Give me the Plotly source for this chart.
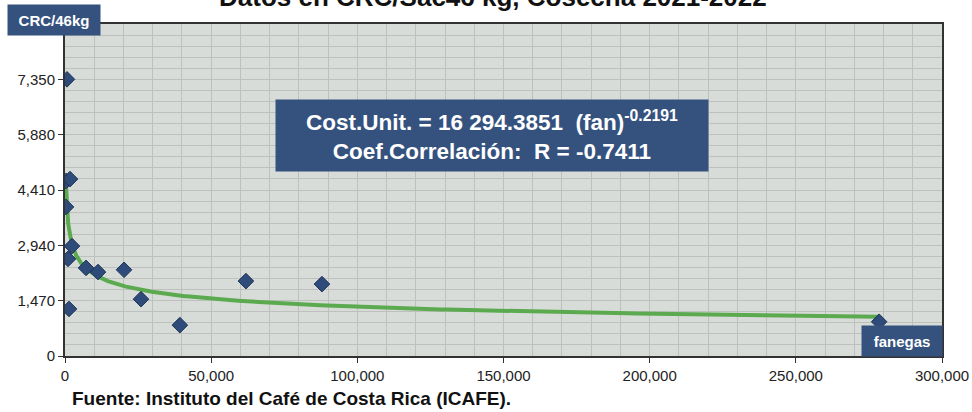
import numpy as np
import plotly.graph_objects as go

# Data (fanegas, CRC/46kg)
fanegas = [680, 340, 1710, 340, 2390, 1030, 7200, 11300, 20200, 26000, 39300, 61900, 87900, 1370, 278500]
costo = [7350, 4650, 4700, 3960, 2920, 2580, 2340, 2230, 2290, 1510, 820, 1990, 1910, 1250, 910]

# Power trendline parameters (shown in chart)
coef_a = 16294.3851
coef_b = -0.2191

y_ticks = [0, 1470, 2940, 4410, 5880, 7350]
y_ticktext = ["0", "1,470", "2,940", "4,410", "5,880", "7,350"]
x_ticks = [0, 50000, 100000, 150000, 200000, 250000, 300000]
x_ticktext = ["0", "50,000", "100,000", "150,000", "200,000", "250,000", "300,000"]

trend_x = np.geomspace(min(fanegas), max(fanegas), 400)
trend_y = coef_a * trend_x ** coef_b

W, H = 972, 412
L, T = 65, 24
pw, ph = 877, 332
R, B = W - L - pw, H - T - ph


# page-pixel -> paper coordinates (plot area spans x 65..942, y 24..356)
def px(xp):
    return (xp - L) / pw


def py(yp):
    return (T + ph - yp) / ph


fig = go.Figure()
fig.add_trace(go.Scatter(
    x=trend_x, y=trend_y, mode="lines",
    line=dict(color="#5BAA4F", width=4), hoverinfo="skip", showlegend=False))
fig.add_trace(go.Scatter(
    x=fanegas, y=costo, mode="markers",
    marker=dict(symbol="diamond", size=12, color="#2E4B7A",
                line=dict(color="#1E3358", width=1)),
    showlegend=False))

grid = "#BEC0BE"
axis_line = "#333333"
font_family = "Liberation Sans, Arial, sans-serif"

fig.update_layout(
    width=W, height=H,
    margin=dict(l=L, r=R, t=T, b=B, autoexpand=False),
    paper_bgcolor="white",
    plot_bgcolor="#D8DCD8",
    font=dict(family=font_family, color="#222222"),
    xaxis=dict(
        range=[0, 300000], tickvals=x_ticks, ticktext=x_ticktext, automargin=False,
        showgrid=True, gridcolor=grid, gridwidth=1,
        minor=dict(dtick=10000, tick0=0, showgrid=True, gridcolor=grid, gridwidth=1),
        showline=True, linecolor=axis_line, linewidth=2, mirror=True,
        ticks="outside", ticklen=5, tickcolor=axis_line,
        tickfont=dict(size=15, color="#222222"), zeroline=False),
    yaxis=dict(
        range=[0, 8820], tickvals=y_ticks, ticktext=y_ticktext, automargin=False,
        showgrid=True, gridcolor=grid, gridwidth=1,
        minor=dict(dtick=294, tick0=0, showgrid=True, gridcolor=grid, gridwidth=1),
        showline=True, linecolor=axis_line, linewidth=2, mirror=True,
        ticks="outside", ticklen=5, tickcolor=axis_line,
        tickfont=dict(size=15, color="#222222"), zeroline=False),
)

box = "#35527F"
fig.add_annotation(
    xref="paper", yref="paper", x=px(493), y=py(-3), xanchor="center", yanchor="middle",
    text="<b>Datos en CRC/Sac46 kg, Cosecha 2021-2022</b>", showarrow=False,
    font=dict(size=26, color="#111111", family=font_family))
fig.add_annotation(
    xref="paper", yref="paper", x=px(54), y=py(20), xanchor="center", yanchor="middle",
    text="<b>CRC/46kg</b>", showarrow=False, width=92, height=30, bgcolor=box, borderpad=0,
    font=dict(size=15, color="white", family=font_family))
fig.add_annotation(
    xref="paper", yref="paper", x=px(902), y=py(341), xanchor="center", yanchor="middle",
    text="<b>fanegas</b>", showarrow=False, width=80, height=30, bgcolor=box, borderpad=0,
    font=dict(size=15, color="white", family=font_family))
fig.add_annotation(
    xref="paper", yref="paper", x=px(492), y=py(135.5), xanchor="center", yanchor="middle",
    text="<b>Cost.Unit. = 16 294.3851  (fan)<sup>-0.2191</sup><br>Coef.Correlación:  R = -0.7411</b>",
    showarrow=False, width=432, height=71, bgcolor=box, borderpad=0,
    font=dict(size=22.5, color="white", family=font_family))
fig.add_annotation(
    xref="paper", yref="paper", x=px(70), y=py(398), xanchor="left", yanchor="middle",
    text="<b>Fuente: Instituto del Café de Costa Rica (ICAFE).</b>", showarrow=False,
    font=dict(size=19, color="#111111", family=font_family))

fig.write_html("out.html", config={"displayModeBar": False},
               post_script="document.body.style.margin='0';")
